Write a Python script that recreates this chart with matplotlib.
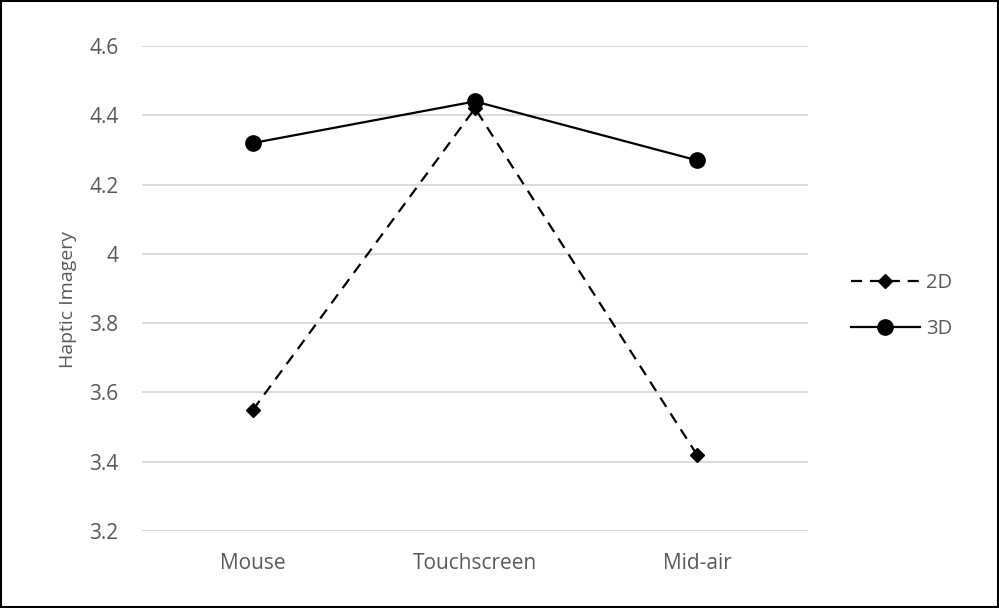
import matplotlib
matplotlib.use("Agg")
import matplotlib.pyplot as plt
from matplotlib.patches import Rectangle

categories = ["Mouse", "Touchscreen", "Mid-air"]
series_2d = [3.55, 4.42, 3.42]
series_3d = [4.32, 4.44, 4.27]
y_ticks = [3.2, 3.4, 3.6, 3.8, 4.0, 4.2, 4.4, 4.6]
y_tick_labels = ["3.2", "3.4", "3.6", "3.8", "4", "4.2", "4.4", "4.6"]

plt.rcParams['font.family'] = ['Open Sans', 'DejaVu Sans']
text_color = "#595959"

fig = plt.figure(figsize=(9.99, 6.08), dpi=100)
ax = fig.add_axes([142/999, 1 - 531/608, (808 - 142)/999, (531 - 46)/608])

x = list(range(len(categories)))
ax.plot(x, series_2d, color="black", lw=1.6, linestyle=(0, (5, 3.5)),
        marker="D", markersize=7.3, label="2D", zorder=3)
ax.plot(x, series_3d, color="black", lw=1.6, linestyle="-",
        marker="o", markersize=11, label="3D", zorder=4)

ax.set_xlim(-0.5, len(categories) - 0.5)
ax.set_ylim(3.2, 4.6)
ax.set_yticks(y_ticks)
ax.set_yticklabels(y_tick_labels)
ax.set_xticks(x)
ax.set_xticklabels(categories)
ax.yaxis.grid(True, color="#d9d9d9", lw=1.3)
ax.set_axisbelow(True)
for s in ax.spines.values():
    s.set_visible(False)
ax.tick_params(axis="both", length=0, colors=text_color, labelsize=15)
ax.tick_params(axis="y", pad=17)
ax.tick_params(axis="x", pad=16)
ax.set_ylabel("Haptic Imagery", color=text_color, fontsize=14)
ax.yaxis.set_label_coords((77 - 142) / 666, 1 - (300 - 46) / 485)

leg = fig.legend(loc="center left", bbox_to_anchor=(843/999, 1 - 306/608),
                 frameon=False, fontsize=14.5, handlelength=3.4,
                 handletextpad=0.3, labelspacing=1.3, borderaxespad=0)
for t in leg.get_texts():
    t.set_color(text_color)

fig.patches.append(Rectangle((0.001, 0.0015), 0.998, 0.997, transform=fig.transFigure,
                             fill=False, edgecolor="black", lw=1.5))

fig.savefig("out.png", dpi=100)
